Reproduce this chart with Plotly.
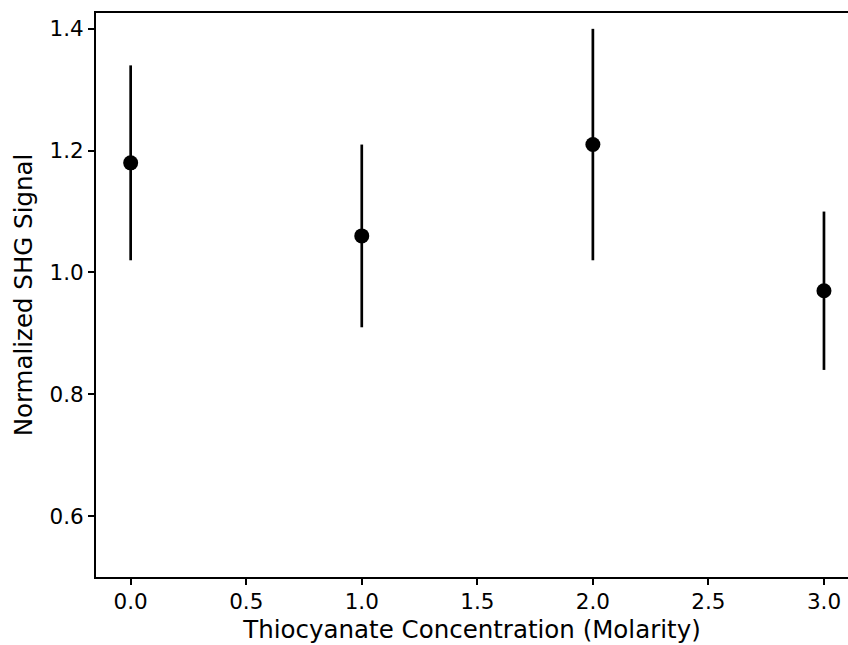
import plotly.graph_objects as go

# Thiocyanate concentration (M) vs normalized SHG signal with error bars
concentration = [0.0, 1.0, 2.0, 3.0]
shg_signal = [1.18, 1.06, 1.21, 0.97]
shg_error = [0.16, 0.15, 0.19, 0.13]

x_ticks = [0.0, 0.5, 1.0, 1.5, 2.0, 2.5, 3.0]
y_ticks = [0.6, 0.8, 1.0, 1.2, 1.4]

font_family = "DejaVu Sans"

fig = go.Figure(
    go.Scatter(
        x=concentration,
        y=shg_signal,
        mode="markers",
        marker=dict(color="black", size=15),
        error_y=dict(type="data", array=shg_error, visible=True,
                     color="black", thickness=2.7, width=0),
        showlegend=False,
    )
)

fig.update_layout(
    width=848,
    height=645,
    margin=dict(l=96, r=0, t=13, b=68),
    paper_bgcolor="white",
    plot_bgcolor="white",
    font=dict(family=font_family, color="black", size=21.5),
)

fig.update_xaxes(
    range=[-0.15, 3.104],
    tickvals=x_ticks,
    tickformat=".1f",
    ticks="outside",
    ticklen=6,
    tickwidth=1.5,
    tickcolor="black",
    showline=True,
    linecolor="black",
    linewidth=1.8,
    mirror=True,
    showgrid=False,
    zeroline=False,
    tickfont=dict(size=21.5),
    ticklabelstandoff=-2,
    title=dict(text="Thiocyanate Concentration (Molarity)",
               font=dict(size=24.5), standoff=8),
)

fig.update_yaxes(
    range=[0.5, 1.426],
    tickvals=y_ticks,
    tickformat=".1f",
    ticks="outside",
    ticklen=6,
    tickwidth=1.5,
    tickcolor="black",
    showline=True,
    linecolor="black",
    linewidth=1.8,
    mirror=False,
    showgrid=False,
    zeroline=False,
    tickfont=dict(size=21.5),
    title=dict(text="Normalized SHG Signal", font=dict(size=24.5), standoff=10),
)

fig.write_html("out.html")
